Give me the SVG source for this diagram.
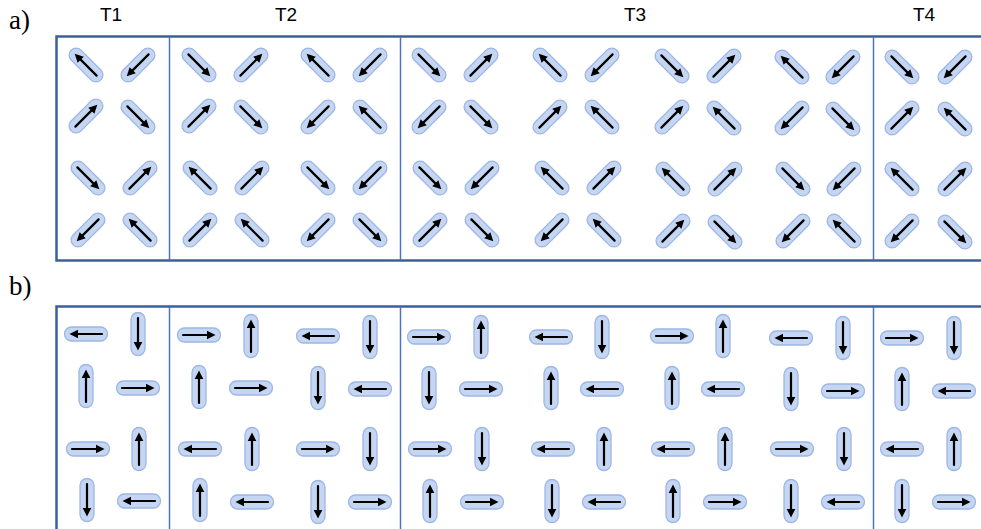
<svg xmlns="http://www.w3.org/2000/svg" xmlns:xlink="http://www.w3.org/1999/xlink" width="981" height="529" viewBox="0 0 981 529">
<style>
.frame{fill:none;stroke:#3f5f9c;stroke-width:2.5}
.div{stroke:#4a74c2;stroke-width:1.5}
.cap{fill:#c5d6f3;stroke:#9db6e4;stroke-width:1.3}
.arr{stroke:#000;stroke-width:2.2;stroke-linecap:round}
.head{fill:#000}
.lbl{font-family:"Liberation Sans",Arial,sans-serif;font-size:19px;fill:#000;text-anchor:middle}
.pl{font-family:"Liberation Serif","Times New Roman",serif;font-size:27px;fill:#000}
</style>
<defs>
<g id="capD">
<rect class="cap" x="-21" y="-7" width="42" height="14" rx="7"/>
<line class="arr" x1="-15" y1="0" x2="9" y2="0"/>
<polygon class="head" points="16,0 7.5,-4.3 7.5,4.3"/>
</g>
<g id="capS">
<rect class="cap" x="-21.5" y="-7" width="43" height="14" rx="7"/>
<line class="arr" x1="-16" y1="0" x2="10" y2="0"/>
<polygon class="head" points="16.5,0 8,-4.3 8,4.3"/>
</g>
</defs>

<text class="pl" x="9" y="29">a)</text>
<text class="pl" x="9" y="295">b)</text>
<text class="lbl" x="111" y="21">T1</text>
<text class="lbl" x="286" y="21">T2</text>
<text class="lbl" x="635" y="21">T3</text>
<text class="lbl" x="924" y="21">T4</text>

<g id="frame-a">
<path class="frame" d="M983 36.5H56.5V260.5H983"/>
<line class="div" x1="169.5" y1="37" x2="169.5" y2="260"/>
<line class="div" x1="400.5" y1="37" x2="400.5" y2="260"/>
<line class="div" x1="873.5" y1="37" x2="873.5" y2="260"/>
</g>
<g id="frame-b">
<path class="frame" d="M983 306.5H56.5V531"/>
<line class="div" x1="169.5" y1="307" x2="169.5" y2="531"/>
<line class="div" x1="400.5" y1="307" x2="400.5" y2="531"/>
<line class="div" x1="873.5" y1="307" x2="873.5" y2="531"/>
</g>

<g id="panel-a">
<g id="a1-1" transform="translate(86,65) rotate(225)"><use xlink:href="#capD"/></g>
<g id="a1-2" transform="translate(138,65) rotate(135)"><use xlink:href="#capD"/></g>
<g id="a1-3" transform="translate(199,65) rotate(45)"><use xlink:href="#capD"/></g>
<g id="a1-4" transform="translate(251,65) rotate(315)"><use xlink:href="#capD"/></g>
<g id="a1-5" transform="translate(318,65) rotate(225)"><use xlink:href="#capD"/></g>
<g id="a1-6" transform="translate(370,65) rotate(135)"><use xlink:href="#capD"/></g>
<g id="a1-7" transform="translate(429,65) rotate(45)"><use xlink:href="#capD"/></g>
<g id="a1-8" transform="translate(481,65) rotate(315)"><use xlink:href="#capD"/></g>
<g id="a1-9" transform="translate(550,65) rotate(225)"><use xlink:href="#capD"/></g>
<g id="a1-10" transform="translate(602,65) rotate(135)"><use xlink:href="#capD"/></g>
<g id="a1-11" transform="translate(672,66) rotate(45)"><use xlink:href="#capD"/></g>
<g id="a1-12" transform="translate(724,66) rotate(315)"><use xlink:href="#capD"/></g>
<g id="a1-13" transform="translate(792,67) rotate(225)"><use xlink:href="#capD"/></g>
<g id="a1-14" transform="translate(843,67) rotate(135)"><use xlink:href="#capD"/></g>
<g id="a1-15" transform="translate(902,67) rotate(45)"><use xlink:href="#capD"/></g>
<g id="a1-16" transform="translate(955,67) rotate(135)"><use xlink:href="#capD"/></g>

<g id="a2-1" transform="translate(86,116) rotate(315)"><use xlink:href="#capD"/></g>
<g id="a2-2" transform="translate(138,117) rotate(45)"><use xlink:href="#capD"/></g>
<g id="a2-3" transform="translate(199,116) rotate(315)"><use xlink:href="#capD"/></g>
<g id="a2-4" transform="translate(251,117) rotate(45)"><use xlink:href="#capD"/></g>
<g id="a2-5" transform="translate(318,117) rotate(135)"><use xlink:href="#capD"/></g>
<g id="a2-6" transform="translate(370,117) rotate(225)"><use xlink:href="#capD"/></g>
<g id="a2-7" transform="translate(429,117) rotate(135)"><use xlink:href="#capD"/></g>
<g id="a2-8" transform="translate(481,117) rotate(45)"><use xlink:href="#capD"/></g>
<g id="a2-9" transform="translate(550,117) rotate(315)"><use xlink:href="#capD"/></g>
<g id="a2-10" transform="translate(602,117) rotate(225)"><use xlink:href="#capD"/></g>
<g id="a2-11" transform="translate(672,117) rotate(315)"><use xlink:href="#capD"/></g>
<g id="a2-12" transform="translate(724,118) rotate(225)"><use xlink:href="#capD"/></g>
<g id="a2-13" transform="translate(792,118) rotate(135)"><use xlink:href="#capD"/></g>
<g id="a2-14" transform="translate(843,119) rotate(45)"><use xlink:href="#capD"/></g>
<g id="a2-15" transform="translate(902,118) rotate(315)"><use xlink:href="#capD"/></g>
<g id="a2-16" transform="translate(955,119) rotate(225)"><use xlink:href="#capD"/></g>

<g id="a3-1" transform="translate(88,178) rotate(45)"><use xlink:href="#capD"/></g>
<g id="a3-2" transform="translate(140,178) rotate(315)"><use xlink:href="#capD"/></g>
<g id="a3-3" transform="translate(200,178) rotate(225)"><use xlink:href="#capD"/></g>
<g id="a3-4" transform="translate(252,178) rotate(315)"><use xlink:href="#capD"/></g>
<g id="a3-5" transform="translate(318,178) rotate(45)"><use xlink:href="#capD"/></g>
<g id="a3-6" transform="translate(370,178) rotate(135)"><use xlink:href="#capD"/></g>
<g id="a3-7" transform="translate(430,178) rotate(45)"><use xlink:href="#capD"/></g>
<g id="a3-8" transform="translate(482,178) rotate(135)"><use xlink:href="#capD"/></g>
<g id="a3-9" transform="translate(552,178) rotate(225)"><use xlink:href="#capD"/></g>
<g id="a3-10" transform="translate(604,178) rotate(315)"><use xlink:href="#capD"/></g>
<g id="a3-11" transform="translate(673,179) rotate(225)"><use xlink:href="#capD"/></g>
<g id="a3-12" transform="translate(725,179) rotate(315)"><use xlink:href="#capD"/></g>
<g id="a3-13" transform="translate(793,179) rotate(45)"><use xlink:href="#capD"/></g>
<g id="a3-14" transform="translate(844,179) rotate(135)"><use xlink:href="#capD"/></g>
<g id="a3-15" transform="translate(902,179) rotate(225)"><use xlink:href="#capD"/></g>
<g id="a3-16" transform="translate(955,179) rotate(315)"><use xlink:href="#capD"/></g>

<g id="a4-1" transform="translate(88,230) rotate(135)"><use xlink:href="#capD"/></g>
<g id="a4-2" transform="translate(140,230) rotate(225)"><use xlink:href="#capD"/></g>
<g id="a4-3" transform="translate(200,230) rotate(315)"><use xlink:href="#capD"/></g>
<g id="a4-4" transform="translate(252,230) rotate(225)"><use xlink:href="#capD"/></g>
<g id="a4-5" transform="translate(318,230) rotate(135)"><use xlink:href="#capD"/></g>
<g id="a4-6" transform="translate(370,230) rotate(45)"><use xlink:href="#capD"/></g>
<g id="a4-7" transform="translate(430,230) rotate(315)"><use xlink:href="#capD"/></g>
<g id="a4-8" transform="translate(482,230) rotate(45)"><use xlink:href="#capD"/></g>
<g id="a4-9" transform="translate(552,230) rotate(135)"><use xlink:href="#capD"/></g>
<g id="a4-10" transform="translate(604,230) rotate(225)"><use xlink:href="#capD"/></g>
<g id="a4-11" transform="translate(673,231) rotate(315)"><use xlink:href="#capD"/></g>
<g id="a4-12" transform="translate(725,232) rotate(45)"><use xlink:href="#capD"/></g>
<g id="a4-13" transform="translate(793,231) rotate(135)"><use xlink:href="#capD"/></g>
<g id="a4-14" transform="translate(844,231) rotate(225)"><use xlink:href="#capD"/></g>
<g id="a4-15" transform="translate(902,231) rotate(135)"><use xlink:href="#capD"/></g>
<g id="a4-16" transform="translate(955,232) rotate(45)"><use xlink:href="#capD"/></g>
</g>

<g id="panel-b">
<g id="b1-1" transform="translate(86,334) rotate(180)"><use xlink:href="#capS"/></g>
<g id="b1-2" transform="translate(138,334) rotate(90)"><use xlink:href="#capS"/></g>
<g id="b1-3" transform="translate(199,335) rotate(0)"><use xlink:href="#capS"/></g>
<g id="b1-4" transform="translate(251,336) rotate(270)"><use xlink:href="#capS"/></g>
<g id="b1-5" transform="translate(318,336) rotate(180)"><use xlink:href="#capS"/></g>
<g id="b1-6" transform="translate(370,337) rotate(90)"><use xlink:href="#capS"/></g>
<g id="b1-7" transform="translate(429,337) rotate(0)"><use xlink:href="#capS"/></g>
<g id="b1-8" transform="translate(481,337) rotate(270)"><use xlink:href="#capS"/></g>
<g id="b1-9" transform="translate(551,337) rotate(180)"><use xlink:href="#capS"/></g>
<g id="b1-10" transform="translate(602,337) rotate(90)"><use xlink:href="#capS"/></g>
<g id="b1-11" transform="translate(672,336) rotate(0)"><use xlink:href="#capS"/></g>
<g id="b1-12" transform="translate(723,336) rotate(270)"><use xlink:href="#capS"/></g>
<g id="b1-13" transform="translate(791,338) rotate(180)"><use xlink:href="#capS"/></g>
<g id="b1-14" transform="translate(843,338) rotate(90)"><use xlink:href="#capS"/></g>
<g id="b1-15" transform="translate(902,338) rotate(0)"><use xlink:href="#capS"/></g>
<g id="b1-16" transform="translate(954,338) rotate(90)"><use xlink:href="#capS"/></g>

<g id="b2-1" transform="translate(86,386) rotate(270)"><use xlink:href="#capS"/></g>
<g id="b2-2" transform="translate(138,388) rotate(0)"><use xlink:href="#capS"/></g>
<g id="b2-3" transform="translate(199,387) rotate(270)"><use xlink:href="#capS"/></g>
<g id="b2-4" transform="translate(251,388) rotate(0)"><use xlink:href="#capS"/></g>
<g id="b2-5" transform="translate(318,388) rotate(90)"><use xlink:href="#capS"/></g>
<g id="b2-6" transform="translate(370,389) rotate(180)"><use xlink:href="#capS"/></g>
<g id="b2-7" transform="translate(429,388) rotate(90)"><use xlink:href="#capS"/></g>
<g id="b2-8" transform="translate(481,389) rotate(0)"><use xlink:href="#capS"/></g>
<g id="b2-9" transform="translate(551,388) rotate(270)"><use xlink:href="#capS"/></g>
<g id="b2-10" transform="translate(602,389) rotate(180)"><use xlink:href="#capS"/></g>
<g id="b2-11" transform="translate(672,388) rotate(270)"><use xlink:href="#capS"/></g>
<g id="b2-12" transform="translate(723,389) rotate(180)"><use xlink:href="#capS"/></g>
<g id="b2-13" transform="translate(791,389) rotate(90)"><use xlink:href="#capS"/></g>
<g id="b2-14" transform="translate(843,391) rotate(0)"><use xlink:href="#capS"/></g>
<g id="b2-15" transform="translate(902,389) rotate(270)"><use xlink:href="#capS"/></g>
<g id="b2-16" transform="translate(954,391) rotate(180)"><use xlink:href="#capS"/></g>

<g id="b3-1" transform="translate(88,449) rotate(0)"><use xlink:href="#capS"/></g>
<g id="b3-2" transform="translate(139,449) rotate(270)"><use xlink:href="#capS"/></g>
<g id="b3-3" transform="translate(200,449) rotate(180)"><use xlink:href="#capS"/></g>
<g id="b3-4" transform="translate(252,449) rotate(270)"><use xlink:href="#capS"/></g>
<g id="b3-5" transform="translate(318,449) rotate(0)"><use xlink:href="#capS"/></g>
<g id="b3-6" transform="translate(370,449) rotate(90)"><use xlink:href="#capS"/></g>
<g id="b3-7" transform="translate(430,449) rotate(0)"><use xlink:href="#capS"/></g>
<g id="b3-8" transform="translate(482,449) rotate(90)"><use xlink:href="#capS"/></g>
<g id="b3-9" transform="translate(553,449) rotate(180)"><use xlink:href="#capS"/></g>
<g id="b3-10" transform="translate(604,449) rotate(270)"><use xlink:href="#capS"/></g>
<g id="b3-11" transform="translate(673,449) rotate(180)"><use xlink:href="#capS"/></g>
<g id="b3-12" transform="translate(725,449) rotate(270)"><use xlink:href="#capS"/></g>
<g id="b3-13" transform="translate(792,449) rotate(0)"><use xlink:href="#capS"/></g>
<g id="b3-14" transform="translate(844,449) rotate(90)"><use xlink:href="#capS"/></g>
<g id="b3-15" transform="translate(902,449) rotate(180)"><use xlink:href="#capS"/></g>
<g id="b3-16" transform="translate(954,449) rotate(270)"><use xlink:href="#capS"/></g>

<g id="b4-1" transform="translate(87,500) rotate(90)"><use xlink:href="#capS"/></g>
<g id="b4-2" transform="translate(139,501) rotate(180)"><use xlink:href="#capS"/></g>
<g id="b4-3" transform="translate(200,500) rotate(270)"><use xlink:href="#capS"/></g>
<g id="b4-4" transform="translate(252,502) rotate(180)"><use xlink:href="#capS"/></g>
<g id="b4-5" transform="translate(318,502) rotate(90)"><use xlink:href="#capS"/></g>
<g id="b4-6" transform="translate(370,502) rotate(0)"><use xlink:href="#capS"/></g>
<g id="b4-7" transform="translate(430,501) rotate(270)"><use xlink:href="#capS"/></g>
<g id="b4-8" transform="translate(482,502) rotate(0)"><use xlink:href="#capS"/></g>
<g id="b4-9" transform="translate(552,501) rotate(90)"><use xlink:href="#capS"/></g>
<g id="b4-10" transform="translate(604,502) rotate(180)"><use xlink:href="#capS"/></g>
<g id="b4-11" transform="translate(673,501) rotate(270)"><use xlink:href="#capS"/></g>
<g id="b4-12" transform="translate(725,502) rotate(0)"><use xlink:href="#capS"/></g>
<g id="b4-13" transform="translate(791,501) rotate(90)"><use xlink:href="#capS"/></g>
<g id="b4-14" transform="translate(843,502) rotate(180)"><use xlink:href="#capS"/></g>
<g id="b4-15" transform="translate(902,501) rotate(90)"><use xlink:href="#capS"/></g>
<g id="b4-16" transform="translate(954,502) rotate(0)"><use xlink:href="#capS"/></g>
</g>
</svg>
